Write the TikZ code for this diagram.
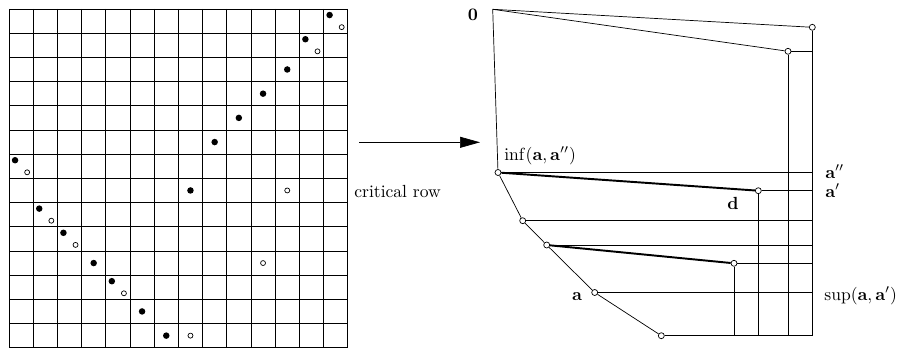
\documentclass[tikz,border=0pt]{standalone}
\usepackage{amsmath}
\usepackage{amssymb}
\usepackage{tikz}
\usetikzlibrary{arrows.meta,positioning,calc}
\tikzstyle{fdot} = [circle, fill=black, inner sep=0pt, minimum size=0.13cm]
\tikzstyle{odot} = [circle, draw, inner sep=0pt, minimum size=0.1cm]
\tikzstyle{vtx} = [circle, draw, inner sep=0pt, minimum size=0.12cm]
\tikzstyle{lbl} = [inner sep=0pt]
\tikzstyle{arrow} = [-{Triangle[length=0.4cm,width=0.22cm]}]
\tikzstyle{chord} = [line width=1.1pt]

\begin{document}
\begin{tikzpicture}[x=0.02cm, y=-0.02cm]
    \useasboundingbox (0,0) rectangle (901,348);
    % the matrix, one cell = 24.2px
    \begin{scope}[shift={(9,9)}, x=0.484cm, y=-0.484cm]
        \foreach \k in {0,...,14} {
            \draw (\k,0) -- (\k,14);
            \draw (0,\k) -- (14,\k);
        }
        \foreach \r/\c [count=\i] in {0/13,1/12,6/0,8/1,9/2,11/4} {
            \node[fdot] (pf\i) at (\c+0.25,\r+0.25) {};
            \node[odot] (po\i) at (\c+0.75,\r+0.75) {};
        }
        \foreach \r/\c [count=\i] in {2/11,3/10,4/9,5/8,7/7,10/3,12/5,13/6}
            \node[fdot] (sf\i) at (\c+0.5,\r+0.5) {};
        \foreach \r/\c [count=\i] in {7/11,10/10,13/7}
            \node[odot] (so\i) at (\c+0.5,\r+0.5) {};
    \end{scope}
    \node[lbl, anchor=base west] (crit) at (354,197) {critical row};
    \coordinate (from) at (359.3,142.3);
    \coordinate (to) at (480,142.3);
    \draw[arrow] (from) -- (to);

    % the lattice
    \coordinate (o) at (492.7,9.3);
    \node[vtx] (t1) at (812.3,27.3) {};
    \node[vtx] (t2) at (788,51.3) {};
    \node[vtx] (inf) at (498,172.5) {};
    \node[vtx] (d) at (758.3,190.7) {};
    \node[vtx] (m1) at (522.7,220.7) {};
    \node[vtx] (m2) at (546.7,245) {};
    \node[vtx] (e) at (734,263.3) {};
    \node[vtx] (a) at (594.7,292.5) {};
    \node[vtx] (bot) at (661.3,335.7) {};
    \draw (o) -- (t1);
    \draw (o) -- (t2);
    \draw (o) -- (inf) -- (m1) -- (m2) -- (a) -- (bot);
    \draw[chord] (inf) -- (d);
    \draw[chord] (m2) -- (e);
    \draw (t1) -- (t1 |- bot);
    \draw (t2) -- (t2 |- bot);
    \draw (d) -- (d |- bot);
    \draw (e) -- (e |- bot);
    \draw (t2) -- (t2 -| t1);
    \draw (inf) -- (inf -| t1);
    \draw (d) -- (d -| t1);
    \draw (m1) -- (m1 -| t1);
    \draw (m2) -- (m2 -| t1);
    \draw (e) -- (e -| t1);
    \draw (a) -- (a -| t1);
    \draw (bot) -- (bot -| t1);

    \node[lbl, anchor=base] (lo) at (473,20.7) {$\mathbf{0}$};
    \node[lbl, anchor=base west] (linf) at (504,160) {$\inf(\mathbf{a},\mathbf{a}'')$};
    \node[lbl, anchor=base west] (la2) at (825,178) {$\mathbf{a}''$};
    \node[lbl, anchor=base west] (la1) at (825,197) {$\mathbf{a}'$};
    \node[lbl, anchor=base] (ld) at (733,209) {$\mathbf{d}$};
    \node[lbl, anchor=base east] (la) at (582.3,300.5) {$\mathbf{a}$};
    \node[lbl, anchor=base west] (lsup) at (824,300) {$\sup(\mathbf{a},\mathbf{a}')$};
\end{tikzpicture}
\end{document}
